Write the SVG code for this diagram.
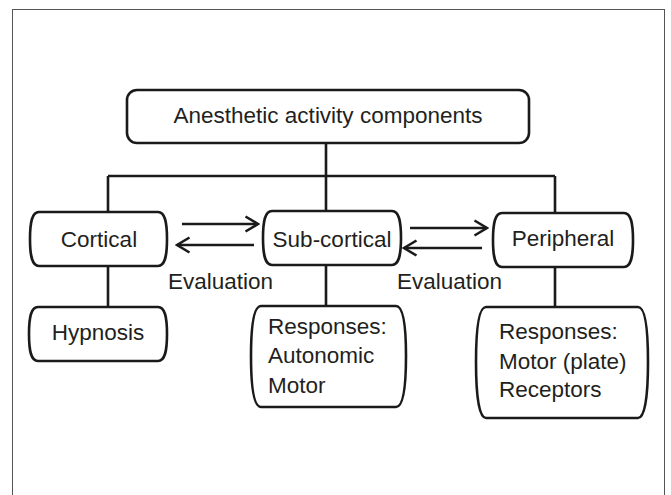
<svg xmlns="http://www.w3.org/2000/svg" width="671" height="495" viewBox="0 0 671 495">
<defs>
<style>
.box{fill:#fff;stroke:#1a1a1a;stroke-width:2.6}
.ln{fill:none;stroke:#1a1a1a;stroke-width:2.6}
.t{font-family:"Liberation Sans",Arial,sans-serif;font-size:22.5px;fill:#231f20}
.c{text-anchor:middle}
</style>
<marker id="ah" viewBox="0 0 16 18" refX="14" refY="9" markerWidth="16" markerHeight="18" markerUnits="userSpaceOnUse" orient="auto">
<path d="M1.5,1.5 L14,9 L1.5,16.5" fill="none" stroke="#1a1a1a" stroke-width="2.6"/>
</marker>
</defs>
<rect width="671" height="495" fill="#fff"/>
<rect x="12.5" y="9.5" width="652" height="500" fill="none" stroke="#555" stroke-width="1"/>

<g id="connectors">
<path class="ln" d="M326,143 V176 M108,176 H555 M108,176 V212 M326,176 V211 M555,176 V213"/>
<path class="ln" d="M108,266 V307 M326,265 V306 M555,266 V307"/>
<line class="ln" x1="182" y1="224" x2="258" y2="224" marker-end="url(#ah)"/>
<line class="ln" x1="254" y1="245" x2="177" y2="245" marker-end="url(#ah)"/>
<line class="ln" x1="410" y1="228" x2="487" y2="228" marker-end="url(#ah)"/>
<line class="ln" x1="482" y1="248" x2="404" y2="248" marker-end="url(#ah)"/>
<text class="t" x="168" y="289">Evaluation</text>
<text class="t" x="397" y="289">Evaluation</text>
</g>

<g id="top">
<rect class="box" x="127" y="90" width="402" height="53" rx="10"/>
<text class="t c" x="328" y="123">Anesthetic activity components</text>
</g>

<g id="cortical">
<path class="box" d="M39,212 H158 C165,212 167,222 167,239 C167,256 165,266 158,266 H39 C32,266 30,256 30,239 C30,222 32,212 39,212 Z"/>
<text class="t c" x="99" y="247">Cortical</text>
</g>

<g id="subcortical">
<path class="box" d="M272,211 H392 C399,211 401,221 401,238 C401,255 399,265 392,265 H272 C265,265 263,255 263,238 C263,221 265,211 272,211 Z"/>
<text class="t c" x="332" y="247">Sub-cortical</text>
</g>

<g id="peripheral">
<path class="box" d="M502,213 H624 C631,213 633,223 633,240 C633,257 631,267 624,267 H502 C495,267 493,257 493,240 C493,223 495,213 502,213 Z"/>
<text class="t c" x="563" y="246">Peripheral</text>
</g>

<g id="hypnosis">
<path class="box" d="M38,307 H158 C165,307 167,317 167,334 C167,351 165,361 158,361 H38 C31,361 29,351 29,334 C29,317 31,307 38,307 Z"/>
<text class="t c" x="98" y="340">Hypnosis</text>
</g>

<g id="responses-sub">
<path class="box" d="M261,306 H396 C403,306 406,325 406,356 C406,387 403,407 396,407 H261 C254,407 251,387 251,356 C251,325 254,306 261,306 Z"/>
<text class="t" x="268" y="334">Responses:</text>
<text class="t" x="268" y="363">Autonomic</text>
<text class="t" x="268" y="393">Motor</text>
</g>

<g id="responses-per">
<path class="box" d="M486,307 H638 C645,307 648,328 648,362 C648,396 645,418 638,418 H486 C479,418 476,396 476,362 C476,328 479,307 486,307 Z"/>
<text class="t" x="499" y="339">Responses:</text>
<text class="t" x="499" y="369">Motor (plate)</text>
<text class="t" x="499" y="397">Receptors</text>
</g>
</svg>
